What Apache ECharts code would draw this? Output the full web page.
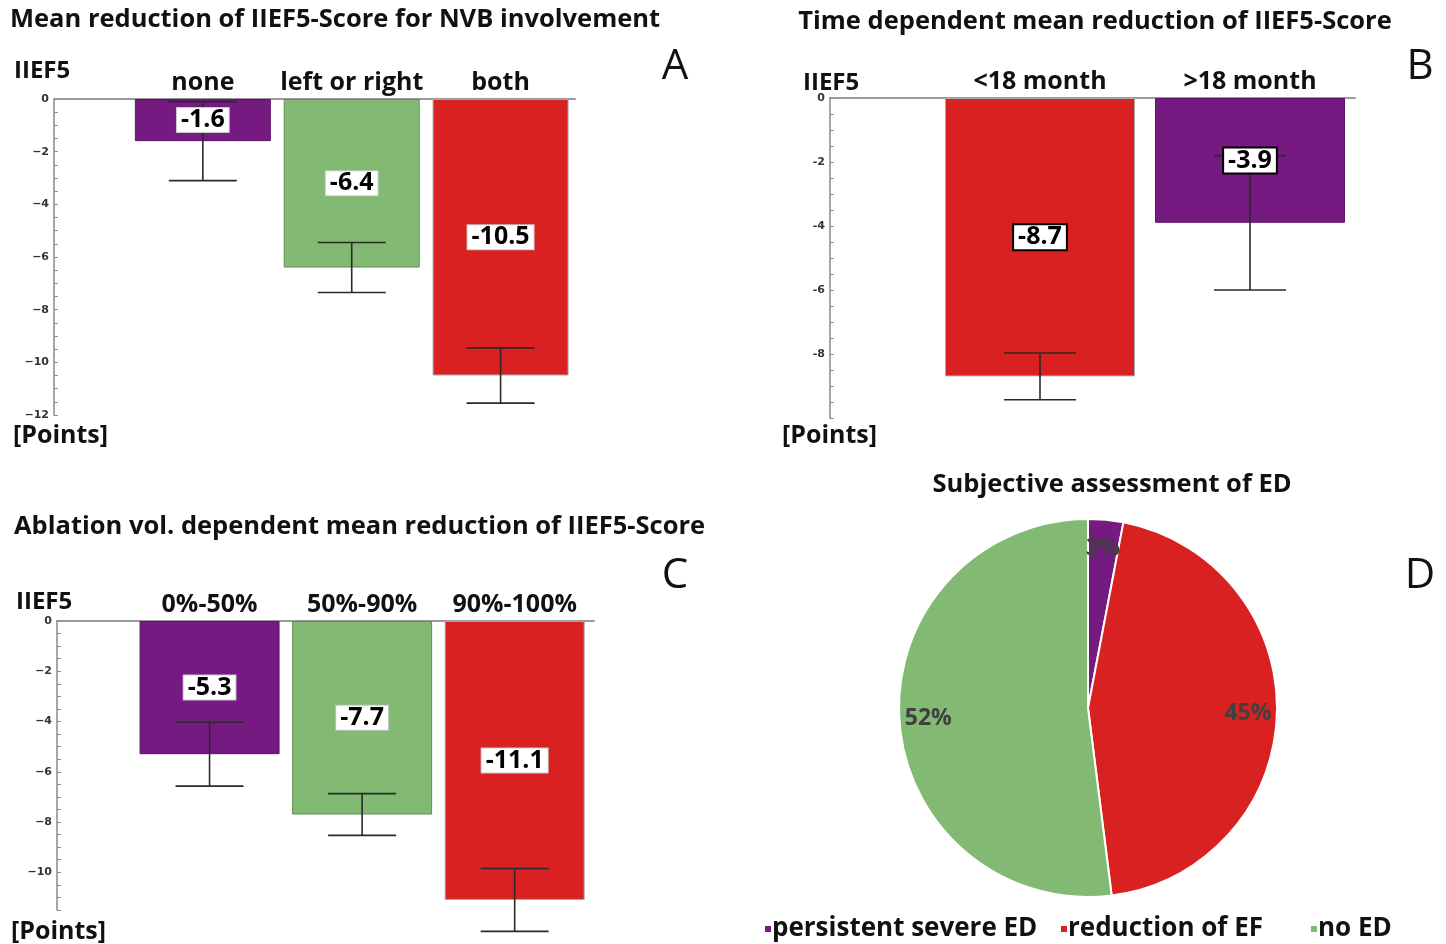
<!DOCTYPE html>
<html><head><meta charset="utf-8">
<script src="https://cdn.jsdelivr.net/npm/echarts@6/dist/echarts.min.js"></script>
<style>html,body{margin:0;padding:0;background:#fff}#c{width:1446px;height:944px}</style>
</head><body><div id="c"></div><script>
// ---------- data ----------
const catsA = ['none', 'left or right', 'both'];
const meanA = [-1.6, -6.4, -10.5];
const sdA = [1.5, 0.95, 1.05];
const ticksA = [0, -2, -4, -6, -8, -10, -12];

const catsB = ['<18 month', '>18 month'];
const meanB = [-8.7, -3.9];
const sdB = [0.73, 2.1];
const ticksB = [0, -2, -4, -6, -8];

const catsC = ['0%-50%', '50%-90%', '90%-100%'];
const meanC = [-5.3, -7.7, -11.1];
const sdC = [1.27, 0.83, 1.25];
const ticksC = [0, -2, -4, -6, -8, -10];

const pieNames = ['persistent severe ED', 'reduction of EF', 'no ED'];
const pieValues = [3, 45, 52];

// ---------- styles ----------
const PURPLE = '#751a81', RED = '#d92121', GREEN = '#82b973';
const colorsA = [PURPLE, GREEN, RED];
const colorsB = [RED, PURPLE];
const colorsC = [PURPLE, GREEN, RED];
const pieColors = [PURPLE, RED, GREEN];
const borderOf = {[PURPLE]: '#5e1568', [GREEN]: '#5f8f52', [RED]: '#a9a9a9'};
const FONT = 'Open Sans';
const TXT = '#111';
const legendLeft = [758, 1054, 1304];

const chart = echarts.init(document.getElementById('c'), null, {renderer: 'canvas'});

function fmtTick(list, minus) {
  return v => {
    const r = Math.round(v * 100) / 100;
    if (!list.includes(r)) return '';
    return r === 0 ? '0' : (minus ? '\u2212' + Math.abs(r) : String(r));
  };
}
function xAx(idx, cats, max) {
  return {
    type: 'value', gridIndex: idx, position: 'top', min: 0, max: max, interval: 0.5,
    axisLine: {lineStyle: {color: '#9a9a9a', width: 2}},
    axisTick: {show: false}, splitLine: {show: false},
    axisLabel: {
      margin: 4, fontFamily: FONT, fontSize: 25, fontWeight: 'bold', color: TXT,
      formatter: v => (Math.abs(v - Math.round(v)) < 1e-6 && Math.round(v) >= 1 && Math.round(v) <= cats.length) ? cats[Math.round(v) - 1] : ''
    }
  };
}
function yAx(idx, min, ticks, minus) {
  return {
    type: 'value', gridIndex: idx, min: min, max: 0, interval: 0.5,
    axisLine: {show: true, lineStyle: {color: '#8a8a8a', width: 1.5}},
    axisTick: {show: true, inside: true, length: 4, lineStyle: {color: '#8a8a8a'}},
    splitLine: {show: false},
    axisLabel: {margin: 5, fontFamily: 'DejaVu Sans', fontSize: 11, fontWeight: 'bold', color: '#333',
      formatter: fmtTick(ticks, minus)}
  };
}
function barSeries(idx, means, colors, bw) {
  return {
    type: 'bar', xAxisIndex: idx, yAxisIndex: idx, barWidth: bw, z: 2, silent: true,
    data: means.map((v, i) => ({value: [i + 1, v],
      itemStyle: {color: colors[i], borderColor: borderOf[colors[i]], borderWidth: 1}}))
  };
}
function errSeries(idx, means, sds, capW, boxBorder, boxBorderW) {
  return {
    type: 'custom', xAxisIndex: idx, yAxisIndex: idx, z: 5, clip: false, silent: true,
    data: means.map((m, i) => [i + 1, m, m + sds[i], m - sds[i]]),
    renderItem(params, api) {
      const x = api.value(0), m = api.value(1), hi = api.value(2), lo = api.value(3);
      const pHi = api.coord([x, hi]), pLo = api.coord([x, lo]), pMid = api.coord([x, m / 2]);
      const h = capW / 2;
      const ls = {stroke: '#2a2a2a', lineWidth: 1.6};
      return {type: 'group', children: [
        {type: 'line', shape: {x1: pHi[0], y1: pHi[1], x2: pLo[0], y2: pLo[1]}, style: ls},
        {type: 'line', shape: {x1: pHi[0] - h, y1: pHi[1], x2: pHi[0] + h, y2: pHi[1]}, style: ls},
        {type: 'line', shape: {x1: pLo[0] - h, y1: pLo[1], x2: pLo[0] + h, y2: pLo[1]}, style: ls},
        {type: 'text', x: pMid[0], y: pMid[1], style: {
          text: m.toFixed(1), align: 'center', verticalAlign: 'middle',
          fontFamily: FONT, fontSize: 25, fontWeight: 'bold', fill: '#000',
          backgroundColor: '#fff', padding: [0, 4, -1, 4],
          borderColor: boxBorder, borderWidth: boxBorderW}}
      ]};
    }
  };
}
function txt(x, y, text, size, weight, align) {
  return {type: 'text', x: x, y: y, silent: true, style: {
    text: text, fontFamily: FONT, fontSize: size, fontWeight: weight || 'bold',
    fill: TXT, align: align || 'left', verticalAlign: 'middle'}};
}

const option = {
  animation: false,
  backgroundColor: '#fff',
  grid: [
    {left: 54, top: 99, width: 521, height: 316},
    {left: 830, top: 98, width: 525, height: 320},
    {left: 57, top: 621, width: 537, height: 289}
  ],
  xAxis: [xAx(0, catsA, 3.5), xAx(1, catsB, 2.5), xAx(2, catsC, 3.52)],
  yAxis: [yAx(0, -12, ticksA, true), yAx(1, -10, ticksB, false), yAx(2, -11.5, ticksC, true)],
  legend: pieNames.map((n, i) => ({
    left: legendLeft[i], top: 911, icon: 'rect', itemWidth: 8, itemHeight: 8,
    selectedMode: false,
    textStyle: {fontFamily: FONT, fontSize: 26, fontWeight: 'bold', color: TXT, padding: [0, 0, 0, -5]},
    data: [{name: n, itemStyle: {color: pieColors[i]}}]
  })),
  series: [
    barSeries(0, meanA, colorsA, 136),
    errSeries(0, meanA, sdA, 68, '#c8c8c8', 1),
    barSeries(1, meanB, colorsB, 190),
    errSeries(1, meanB, sdB, 72, '#000', 2),
    barSeries(2, meanC, colorsC, 140),
    errSeries(2, meanC, sdC, 68, '#c8c8c8', 1),
    {
      type: 'pie', name: 'ED', center: [1088, 708], radius: 189, startAngle: 90, clockwise: true,
      silent: true, label: {show: false}, labelLine: {show: false},
      itemStyle: {borderColor: '#fff', borderWidth: 2},
      data: pieNames.map((n, i) => ({name: n, value: pieValues[i], itemStyle: {color: pieColors[i]}}))
    },
    {
      type: 'pie', name: 'EDlabels', center: [1088, 708], radius: [125, 189], startAngle: 90, clockwise: true,
      silent: true, legendHoverLink: false,
      itemStyle: {color: 'rgba(0,0,0,0)', borderWidth: 0},
      label: {show: true, position: 'inside', formatter: p => pieValues[p.dataIndex] + '%',
        fontFamily: FONT, fontSize: 23, fontWeight: 'bold', color: '#404040'},
      labelLine: {show: false},
      data: pieNames.map((n, i) => ({name: n, value: pieValues[i]}))
    }
  ],
  graphic: [
    txt(10, 20, 'Mean reduction of IIEF5-Score for NVB involvement', 25.5),
    txt(675, 67, 'A', 42, 'normal', 'center'),
    txt(14, 71, 'IIEF5', 24),
    txt(13, 436, '[Points]', 25),
    txt(1095, 22, 'Time dependent mean reduction of IIEF5-Score', 25.5, 'bold', 'center'),
    txt(1420, 67, 'B', 42, 'normal', 'center'),
    txt(803, 83, 'IIEF5', 24),
    txt(782, 436, '[Points]', 25),
    txt(14, 527, 'Ablation vol. dependent mean reduction of IIEF5-Score', 25.5),
    txt(675, 576, 'C', 42, 'normal', 'center'),
    txt(16, 602, 'IIEF5', 24),
    txt(11, 932, '[Points]', 25),
    txt(1112, 485, 'Subjective assessment of ED', 25.5, 'bold', 'center'),
    txt(1420, 576, 'D', 42, 'normal', 'center')
  ]
};
chart.setOption(option);
</script></body></html>
